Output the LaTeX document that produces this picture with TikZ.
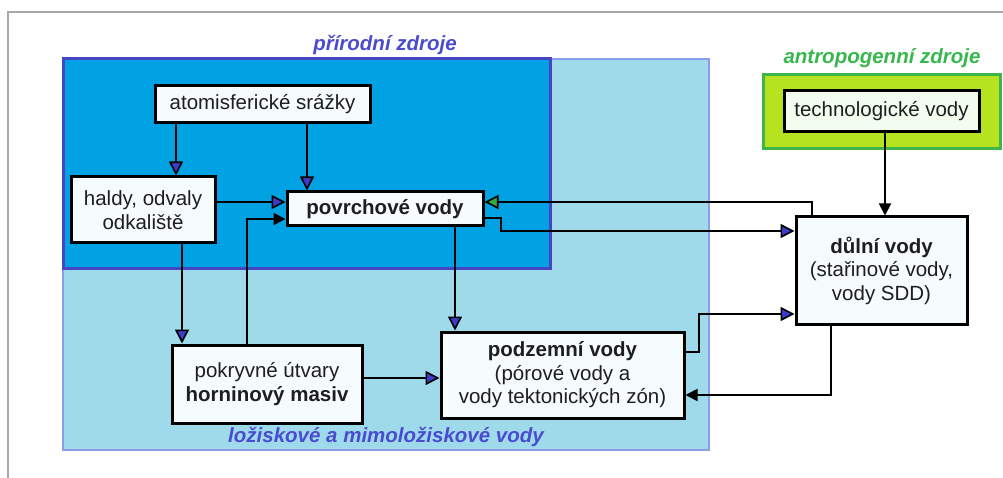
\documentclass[tikz,border=0pt]{standalone}
\usepackage{fontspec}
\setmainfont{Liberation Sans}
\usetikzlibrary{arrows.meta}
\definecolor{lightbluefill}{HTML}{9FDAEA}
\definecolor{lightblueedge}{HTML}{8C9CEB}
\definecolor{darkbluefill}{HTML}{00A2E3}
\definecolor{darkblueedge}{HTML}{4646C4}
\definecolor{greenfill}{HTML}{B6E31F}
\definecolor{greenedge}{HTML}{3DB54A}
\definecolor{labelblue}{HTML}{4B4BD0}
\definecolor{labelgreen}{HTML}{36B84C}
\definecolor{tipblue}{HTML}{3C3CC8}
\definecolor{tipgreen}{HTML}{33AA44}
\definecolor{boxfill}{HTML}{F6FBFE}
\definecolor{techfill}{HTML}{F2FDF0}
\definecolor{txt}{HTML}{1E1E1E}
\definecolor{framegray}{HTML}{A8A8A8}
\tikzset{
  wbox/.style={draw=black, line width=3pt, fill=boxfill, inner sep=0pt, align=center, text=txt,
    font=\fontsize{20.5}{23.5}\selectfont},
  grouplabel/.style={font=\fontsize{20.5}{23}\selectfont\bfseries\itshape, inner sep=0pt},
  mainflow/.style={draw=black, line width=2.8pt,
    -{Triangle[length=14pt, width=14pt, fill=tipblue, line width=1.6pt]}},
  greenflow/.style={draw=black, line width=2.8pt,
    -{Triangle[length=14pt, width=14pt, fill=tipgreen, line width=1.6pt]}},
  thinflow/.style={draw=black, line width=1.8pt,
    -{Triangle[length=12pt, width=12pt]}}
}
\begin{document}
\begin{tikzpicture}[x=1pt, y=-1pt]
\useasboundingbox (0,0) rectangle (1003,478);
% frame
\draw[framegray, line width=2.5pt] (8,478) -- (8,12) -- (1003,12);
% regions
\filldraw[fill=lightbluefill, draw=lightblueedge, line width=2.5pt] (63,59) rectangle (709,450);
\filldraw[fill=darkbluefill, draw=darkblueedge, line width=3pt] (63,59) rectangle (550,268);
\filldraw[fill=greenfill, draw=greenedge, line width=3pt] (763,75) rectangle (1000,149);
% group labels
\node[grouplabel, text=labelblue] (lprir) at (385,45) {přírodní zdroje};
\node[grouplabel, text=labelblue] (lloz) at (386,437) {ložiskové a mimoložiskové vody};
\node[grouplabel, text=labelgreen] (lantr) at (882,58) {antropogenní zdroje};
% boxes
\node[wbox, minimum width=215pt, minimum height=37pt] (atmos) at (262.5,104.5) {atomisferické srážky};
\node[wbox, minimum width=144pt, minimum height=66pt] (haldy) at (143,210) {haldy, odvaly\\odkaliště};
\node[wbox, minimum width=196pt, minimum height=34pt] (povrch) at (385,209) {\bfseries povrchové vody};
\node[wbox, minimum width=190pt, minimum height=78pt] (pokryv) at (267,384) {pokryvné útvary\\\bfseries horninový masiv};
\node[wbox, minimum width=243pt, minimum height=86pt] (podzem) at (562.5,375) {{\bfseries podzemní vody}\\(pórové vody a\\vody tektonických zón)};
\node[wbox, minimum width=171pt, minimum height=107pt] (dulni) at (881.5,270.5) {{\bfseries důlní vody}\\(stařinové vody,\\vody SDD)};
\node[wbox, fill=techfill, minimum width=195pt, minimum height=41pt] (tech) at (881.5,111.5) {technologické vody};
% helper coordinates
\coordinate (xA) at (176,0);
\coordinate (xB) at (307,0);
\coordinate (yC) at (0,202);
\coordinate (xD) at (247,0);
\coordinate (yD) at (0,219);
\coordinate (xE) at (182,0);
\coordinate (xF) at (455,0);
\coordinate (yG) at (0,378);
\coordinate (yH1) at (0,218);
\coordinate (pH1) at (501,218);
\coordinate (pH2) at (501,231);
\coordinate (yH2) at (0,231);
\coordinate (xI) at (812,0);
\coordinate (xJ) at (885,0);
\coordinate (yK1) at (0,352);
\coordinate (pK1) at (699,352);
\coordinate (pK2) at (699,314);
\coordinate (yK2) at (0,314);
\coordinate (xL) at (831,0);
\coordinate (yL) at (0,395);
% connectors
\draw[mainflow] (xA |- atmos.south) -- (xA |- haldy.north);
\draw[mainflow] (xB |- atmos.south) -- (xB |- povrch.north);
\draw[mainflow] (haldy.east |- yC) -- (povrch.west |- yC);
\draw[thinflow] (xD |- pokryv.north) |- (povrch.west |- yD);
\draw[mainflow] (xE |- haldy.south) -- (xE |- pokryv.north);
\draw[mainflow] (xF |- povrch.south) -- (xF |- podzem.north);
\draw[mainflow] (pokryv.east |- yG) -- (podzem.west |- yG);
\draw[mainflow] (povrch.east |- yH1) -- (pH1) -- (pH2) -- (dulni.west |- yH2);
\draw[greenflow] (xI |- dulni.north) |- (povrch.east |- yC);
\draw[thinflow] (xJ |- tech.south) -- (xJ |- dulni.north);
\draw[mainflow] (podzem.east |- yK1) -- (pK1) -- (pK2) -- (dulni.west |- yK2);
\draw[thinflow] (xL |- dulni.south) |- (podzem.east |- yL);
\end{tikzpicture}
\end{document}
